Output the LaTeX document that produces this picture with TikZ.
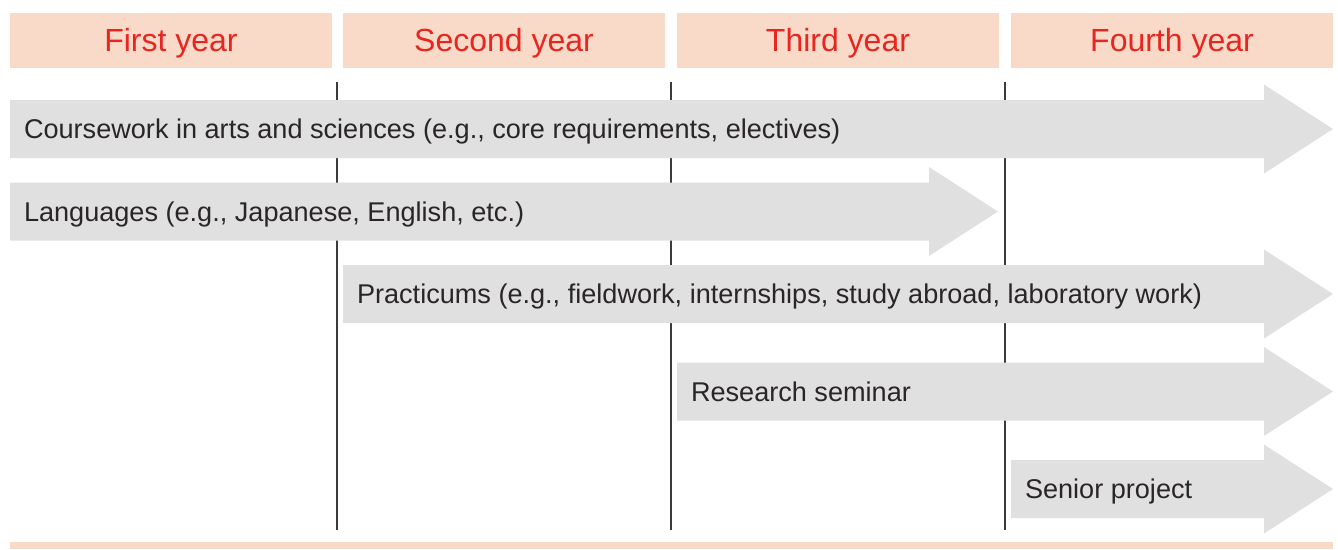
\documentclass[tikz,border=0pt]{standalone}
\usepackage{fontspec}
\setmainfont{Liberation Sans}
\usepackage{xcolor}
\definecolor{tlPeach}{HTML}{F9D9C8}
\definecolor{tlRed}{HTML}{E8261F}
\definecolor{tlInk}{HTML}{2A2526}
\definecolor{tlGrey}{HTML}{DFE0DF}
\definecolor{tlRule}{HTML}{3E3A39}
\newcommand{\tlHeadSize}{\fontsize{32}{36}\selectfont}
\newcommand{\tlBarSize}{\fontsize{27.1}{30}\selectfont}
% arrow bar: name, left x, tip x, middle y, label
\newcommand{\tlArrow}[5]{%
  \fill[tlGrey] (#2,#4-29) -- (#3-69,#4-29) -- (#3-69,#4-44.5) -- (#3,#4)
    -- (#3-69,#4+44.5) -- (#3-69,#4+29) -- (#2,#4+29) -- cycle;
  \node[tlbar] (#1) at (#2+13.8,#4+9.5) {#5};}
\tikzset{
  tlhead/.style={fill=tlPeach, text=tlRed, font=\tlHeadSize, inner sep=0pt,
    minimum width=322, minimum height=55, text height=23, text depth=2},
  tlbar/.style={anchor=base west, inner sep=0pt, text=tlInk, font=\tlBarSize},
  tlrule/.style={draw=tlRule, line width=1.3pt}
}

\begin{document}
\begin{tikzpicture}[x=1pt,y=-1pt]
\useasboundingbox (0,0) rectangle (1338,549);
\node[tlhead] (year1) at (171,40.5) {First year};
\node[tlhead] (year2) at (504,40.5) {Second year};
\node[tlhead] (year3) at (838,40.5) {Third year};
\node[tlhead] (year4) at (1172,40.5) {Fourth year};
\foreach \x in {337,671,1005}
  \draw[tlrule] (\x,82) -- (\x,530);
\tlArrow{course}{10}{1333}{129}{Coursework in arts and sciences (e.g., core requirements, electives)}
\tlArrow{lang}{10}{998}{211.5}{Languages (e.g., Japanese, English, etc.)}
\tlArrow{pract}{343}{1333}{294}{Practicums (e.g., fieldwork, internships, study abroad, laboratory work)}
\tlArrow{seminar}{677}{1333}{391.5}{Research seminar}
\tlArrow{senior}{1011}{1333}{489}{Senior project}
\fill[tlPeach] (10,542) rectangle (1333,549);
\end{tikzpicture}
\end{document}
